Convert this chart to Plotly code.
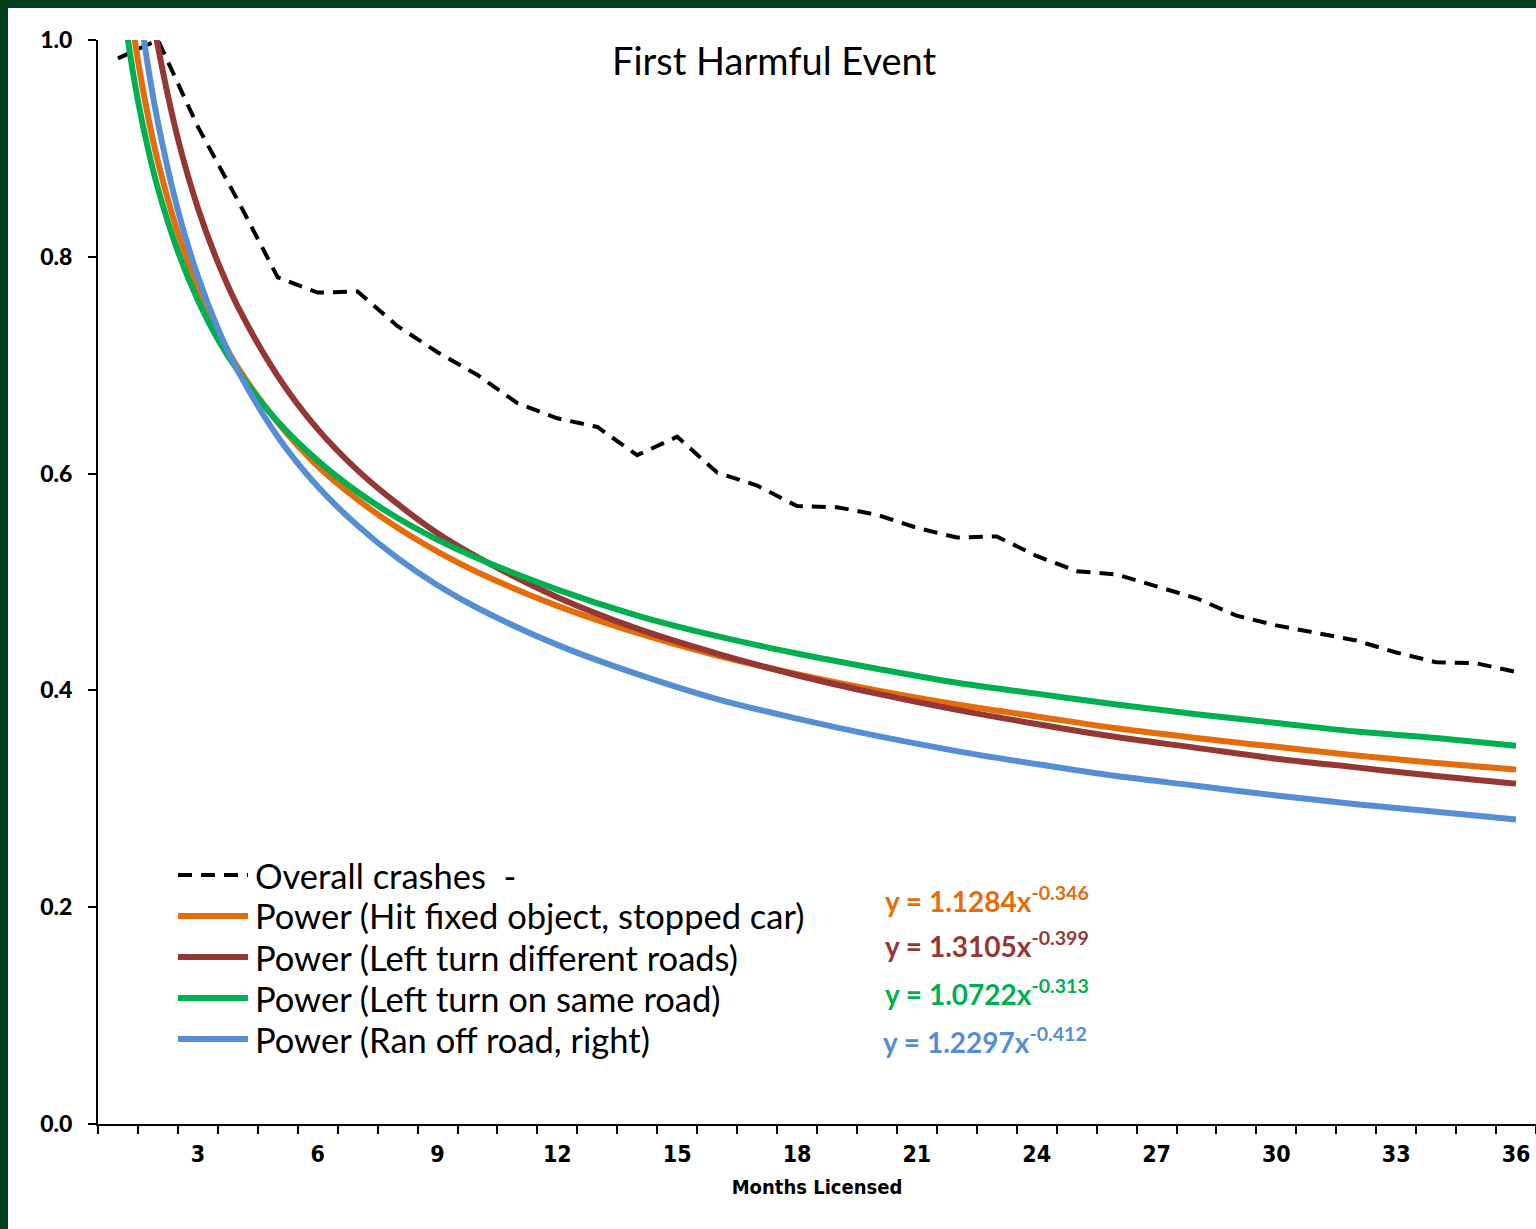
import plotly.graph_objects as go

# ---------------- data ----------------
months = list(range(1, 37))
overall = [0.983, 1.000, 0.920, 0.852, 0.781, 0.767, 0.768, 0.736, 0.712, 0.691,
           0.665, 0.651, 0.643, 0.617, 0.634, 0.601, 0.589, 0.570, 0.569, 0.562,
           0.550, 0.541, 0.542, 0.524, 0.510, 0.507, 0.496, 0.485, 0.469, 0.460,
           0.453, 0.446, 0.435, 0.426, 0.425, 0.417]

fit_x = [1, 1.25, 1.5, 1.75, 2, 2.5, 3, 3.5, 4, 5, 6, 7, 8, 9, 10, 12, 14, 16, 18,
         20, 22, 24, 26, 28, 30, 32, 34, 36]
hit_fixed = [1.128, 1.045, 0.981, 0.930, 0.888, 0.822, 0.772, 0.731, 0.698, 0.647,
             0.607, 0.576, 0.550, 0.528, 0.509, 0.478, 0.453, 0.432, 0.415, 0.400,
             0.387, 0.376, 0.365, 0.356, 0.348, 0.340, 0.333, 0.327]
left_diff = [1.311, 1.199, 1.115, 1.048, 0.994, 0.909, 0.845, 0.795, 0.754, 0.690,
             0.641, 0.603, 0.572, 0.545, 0.523, 0.486, 0.457, 0.434, 0.414, 0.397,
             0.382, 0.369, 0.357, 0.347, 0.337, 0.329, 0.321, 0.314]
left_same = [1.072, 1.000, 0.944, 0.900, 0.863, 0.805, 0.760, 0.724, 0.695, 0.648,
             0.612, 0.583, 0.559, 0.539, 0.522, 0.493, 0.469, 0.450, 0.434, 0.420,
             0.407, 0.397, 0.387, 0.378, 0.370, 0.362, 0.356, 0.349]
ran_off = [1.230, 1.122, 1.041, 0.976, 0.924, 0.843, 0.782, 0.734, 0.695, 0.634,
           0.588, 0.552, 0.522, 0.497, 0.476, 0.442, 0.415, 0.392, 0.374, 0.358,
           0.344, 0.332, 0.321, 0.312, 0.303, 0.295, 0.288, 0.281]

series_names = ["Overall crashes  -",
                "Power (Hit fixed object, stopped car)",
                "Power (Left turn different roads)",
                "Power (Left turn on same road)",
                "Power (Ran off road, right)"]
equations = ["y = 1.1284x<sup>-0.346</sup>",
             "y = 1.3105x<sup>-0.399</sup>",
             "y = 1.0722x<sup>-0.313</sup>",
             "y = 1.2297x<sup>-0.412</sup>"]
x_tick_vals = list(range(3, 37, 3))
x_bounds = [k + 0.5 for k in range(0, 37)]
y_tick_vals = [0.0, 0.2, 0.4, 0.6, 0.8, 1.0]

# ---------------- style ----------------
colors = ["#000000", "#E46C0A", "#953735", "#00B050", "#558ED5"]
LINE_W = 6
DASH = "14px,9px"
GREEN_FRAME = "#013F1E"

W, H = 1536, 1229
ML, MR, MT, MB = 98, 0, 40, 105
PW, PH = W - ML - MR, H - MT - MB


def px_x(p):
    return (p - ML) / PW


def px_y(p):
    return (H - MB - p) / PH


fig = go.Figure()

fig.add_trace(go.Scatter(x=months, y=overall, mode="lines", name=series_names[0],
                         line=dict(color=colors[0], width=4, dash=DASH),
                         showlegend=False))
for ys, nm, c in zip([hit_fixed, left_diff, left_same, ran_off], series_names[1:], colors[1:]):
    fig.add_trace(go.Scatter(x=fit_x, y=ys, mode="lines", name=nm,
                             line=dict(color=c, width=LINE_W, shape="spline", smoothing=1.0),
                             showlegend=False))

shapes = []
annotations = []

# frame (dark green strips on top and left)
shapes.append(dict(type="rect", xref="paper", yref="paper",
                   x0=px_x(-2), x1=px_x(W + 10), y0=px_y(8), y1=px_y(-2),
                   fillcolor=GREEN_FRAME, line=dict(width=0), layer="above"))
shapes.append(dict(type="rect", xref="paper", yref="paper",
                   x0=px_x(-2), x1=px_x(8), y0=px_y(H + 2), y1=px_y(-2),
                   fillcolor=GREEN_FRAME, line=dict(width=0), layer="above"))

# custom legend
leg_y = [875, 916, 957, 998, 1039]
for i, (nm, c) in enumerate(zip(series_names, colors)):
    yy = px_y(leg_y[i])
    shapes.append(dict(type="line", xref="paper", yref="paper",
                       x0=px_x(178), x1=px_x(248), y0=yy, y1=yy,
                       line=dict(color=c, width=4 if i == 0 else LINE_W,
                                 dash=DASH if i == 0 else "solid")))
    annotations.append(dict(text=nm, xref="paper", yref="paper", x=px_x(253), y=yy,
                            xanchor="left", yanchor="middle", showarrow=False,
                            font=dict(family="Lato", size=34.5, color="#000000")))

# equations
eq_y = [899, 944, 992, 1040]
eq_x = [883, 883, 883, 881]
for i, eq in enumerate(equations):
    annotations.append(dict(text=eq, xref="paper", yref="paper", x=px_x(eq_x[i]), y=px_y(eq_y[i]),
                            xanchor="left", yanchor="middle", showarrow=False,
                            font=dict(family="Lato", size=28, color=colors[i + 1], weight="bold")))

# title
annotations.append(dict(text="First Harmful Event", xref="paper", yref="paper",
                        x=px_x(774), y=px_y(60), xanchor="center", yanchor="middle",
                        showarrow=False, font=dict(family="Lato", size=38, color="#000000")))

fig.update_layout(
    width=W, height=H, autosize=False,
    margin=dict(l=ML, r=MR, t=MT, b=MB, pad=0),
    paper_bgcolor="white", plot_bgcolor="white",
    shapes=shapes, annotations=annotations,
    showlegend=False,
)

fig.update_xaxes(
    range=[0.5, 36.5], showgrid=False, zeroline=False,
    showline=True, linecolor="black", linewidth=2,
    tickmode="array", tickvals=x_tick_vals, ticktext=[str(v) for v in x_tick_vals],
    ticks="outside", ticklen=8, tickcolor="rgba(0,0,0,0)",
    tickfont=dict(family="DejaVu Sans Condensed", size=23, color="#000000", weight="bold"),
    minor=dict(tickmode="array", tickvals=x_bounds, ticks="outside", ticklen=8,
               tickwidth=2, tickcolor="black", showgrid=False),
    title=dict(text="Months Licensed", standoff=14,
               font=dict(family="DejaVu Sans Condensed", size=20, color="#000000", weight="bold")),
)
fig.update_yaxes(
    range=[0, 1.0], showgrid=False, zeroline=False,
    showline=True, linecolor="black", linewidth=2,
    tickmode="array", tickvals=y_tick_vals, tickformat=".1f",
    ticks="outside", ticklen=8, tickwidth=2, tickcolor="black",
    tickfont=dict(family="Lato", size=23, color="#000000", weight=900),
    ticklabelstandoff=11,
)

fig.write_html("out.html", config={"displayModeBar": False},
               post_script="document.body.style.margin='0px';")
